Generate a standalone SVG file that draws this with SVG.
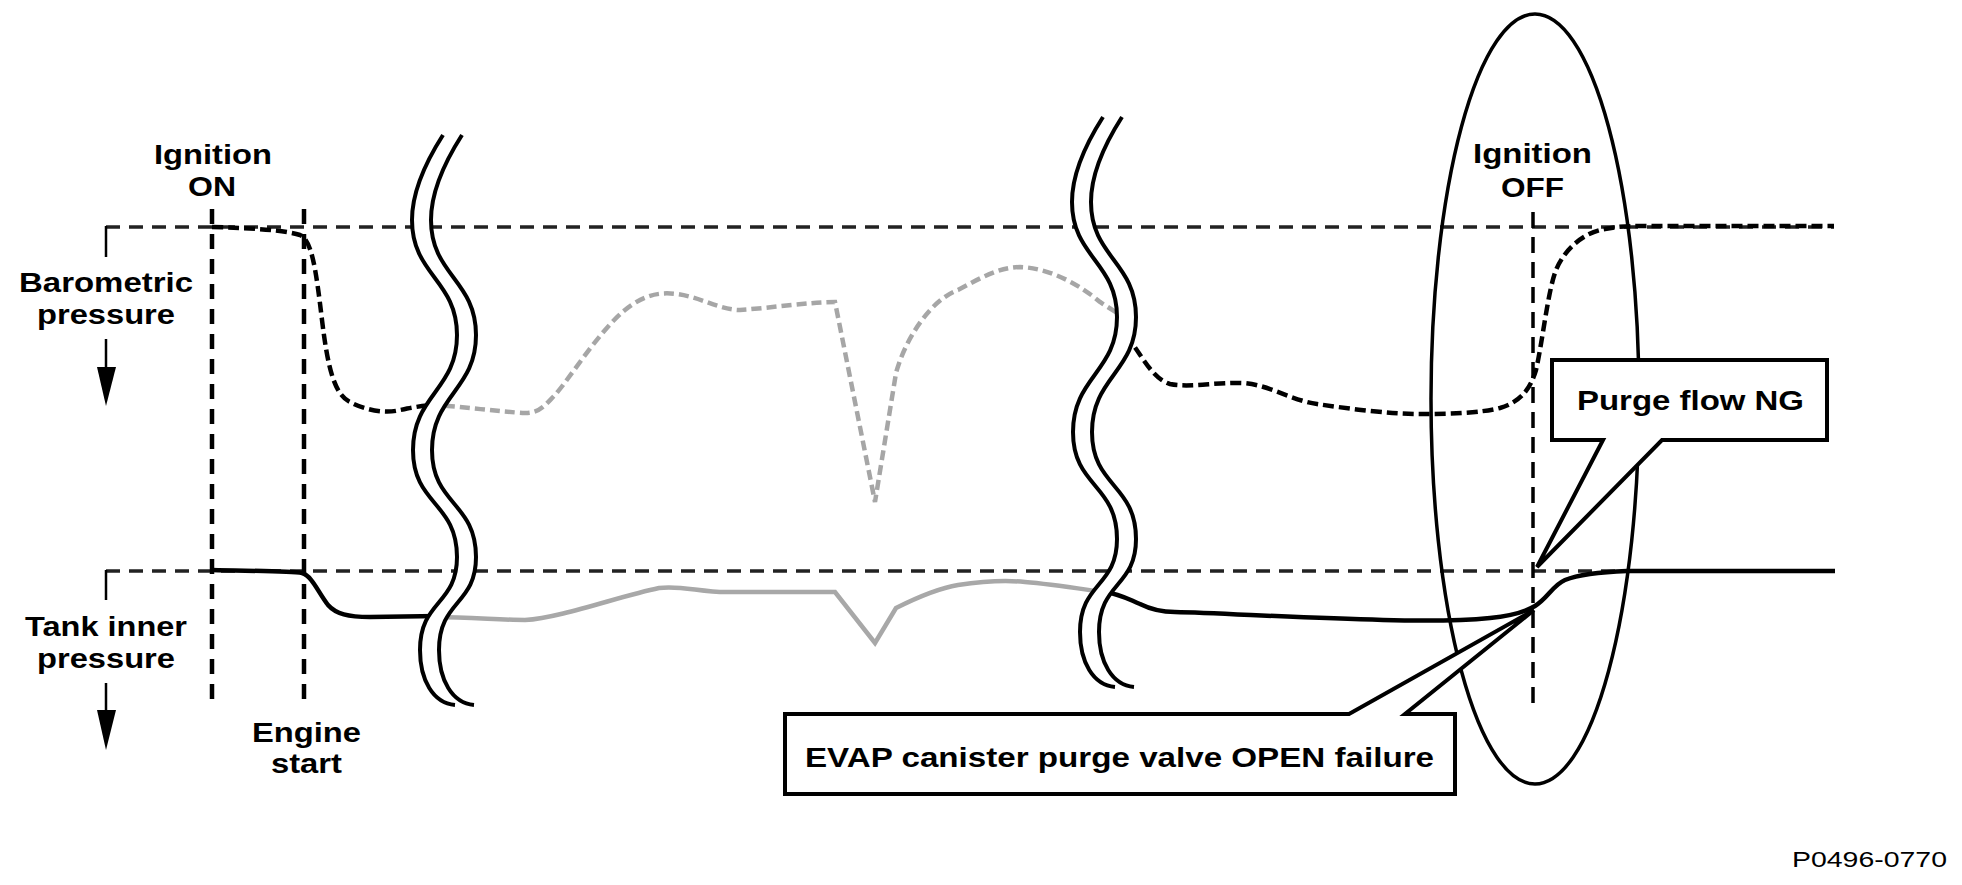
<svg xmlns="http://www.w3.org/2000/svg" xmlns:xlink="http://www.w3.org/1999/xlink" width="1962" height="885" viewBox="0 0 1962 885">
<style>
.lbl{font-family:"Liberation Sans",Arial,sans-serif;font-weight:bold;font-size:28px;fill:#000}
.code{font-family:"Liberation Sans",Arial,sans-serif;font-size:22px;fill:#000}
.base{fill:none;stroke:#222;stroke-width:3.5;stroke-dasharray:14 9}
.vmark{fill:none;stroke:#000;stroke-width:4.5;stroke-dasharray:15 10}
.vmark2{fill:none;stroke:#000;stroke-width:3.5;stroke-dasharray:16 9}
.bdash{fill:none;stroke:#000;stroke-width:4.5;stroke-dasharray:11 5}
.gdash{fill:none;stroke:#a6a6a6;stroke-width:4.5;stroke-dasharray:10 5}
.bsolid{fill:none;stroke:#000;stroke-width:4.5}
.gsolid{fill:none;stroke:#a8a8a8;stroke-width:4.5}
.brkline{fill:none;stroke:#000;stroke-width:4}
.brkfill{fill:#fff;stroke:none}
.callout{fill:#fff;stroke:#000;stroke-width:4}
.tick{fill:none;stroke:#000;stroke-width:2.5}
</style>
<defs>
<path id="brkpath" d="M0,0 C-16,25 -31,55 -31,85 C-31,140 14,145 14,200 C14,255 -30,260 -30,315 C-30,370 14,367 14,422 C14,470 -23,465 -23,515 C-23,545 -10,568 12,570"/>
<g id="brk">
<path class="brkfill" d="M0,0 C-16,25 -31,55 -31,85 C-31,140 14,145 14,200 C14,255 -30,260 -30,315 C-30,370 14,367 14,422 C14,470 -23,465 -23,515 C-23,545 -10,568 12,570 L31,570 C9,568 -4,545 -4,515 C-4,465 33,470 33,422 C33,367 -11,370 -11,315 C-11,260 33,255 33,200 C33,145 -12,140 -12,85 C-12,55 3,25 19,0 Z"/>
<use xlink:href="#brkpath" class="brkline"/>
<use xlink:href="#brkpath" class="brkline" transform="translate(19,0)"/>
</g>
</defs>
<rect width="1962" height="885" fill="#fff"/>

<g id="axes">
<line class="base" x1="106" y1="227" x2="1834" y2="227"/>
<line class="base" x1="106" y1="571" x2="1835" y2="571"/>
<line class="tick" x1="106" y1="226" x2="106" y2="257"/>
<line class="tick" x1="106" y1="570" x2="106" y2="600"/>
<line class="tick" x1="106" y1="339" x2="106" y2="370"/>
<polygon points="97,367 116,367 106,406" fill="#000"/>
<line class="tick" x1="106" y1="683" x2="106" y2="713"/>
<polygon points="97,710 116,710 106,750" fill="#000"/>
</g>

<g id="event-lines">
<line class="vmark" x1="212" y1="209" x2="212" y2="702"/>
<line class="vmark" x1="304" y1="209" x2="304" y2="702"/>
<line class="vmark2" x1="1533" y1="212" x2="1533" y2="703"/>
</g>

<g id="curves">
<path class="bdash" d="M212,227 C250,228 285,230 300,235 C312,240 316,270 322,320 C328,370 335,395 350,402 C365,410 385,414 400,410 C415,407 425,405 440,405"/>
<path class="gdash" d="M430,405 C450,405 500,412 525,413 C540,413 545,405 555,395 C570,378 600,330 625,310 C645,294 660,292 677,294 C700,297 720,310 740,310 C770,308 810,302 835,302 L875,502 L896,373 C905,340 930,300 958,290 C980,278 1000,267 1020,267 C1050,268 1080,285 1100,302 L1125,318"/>
<path class="bdash" d="M1125,335 C1140,350 1150,378 1170,384 C1190,388 1215,382 1243,383 C1270,385 1290,400 1317,404 C1350,409 1390,414 1420,414 C1450,414 1480,413 1500,408 C1520,402 1530,390 1536,370 C1542,345 1548,290 1556,270 C1565,248 1585,232 1605,229 C1615,227 1625,226 1640,226 L1834,226"/>
<path class="bsolid" d="M212,570 C250,571 290,571 302,573 C312,576 318,592 328,605 C336,614 348,617 370,617 L438,616"/>
<path class="gsolid" d="M435,617 C470,617 500,620 525,620 C560,618 620,596 659,588 C680,585 700,592 726,592 L835,592 L875,643 L896,608 C920,596 940,588 958,585 C985,581 1005,580 1025,582 C1050,584 1075,588 1103,592"/>
<path class="bsolid" d="M1105,592 C1120,594 1130,600 1140,604 C1150,609 1160,612 1175,612 C1220,613 1300,618 1383,620 C1420,621 1460,621 1490,618 C1510,616 1525,612 1535,606 C1548,598 1553,585 1565,580 C1580,574 1600,572 1627,571 L1835,571"/>
</g>

<g id="break-1"><use xlink:href="#brk" transform="translate(443,135)"/></g>
<g id="break-2"><use xlink:href="#brk" transform="translate(1103,117)"/></g>

<g id="highlight">
<ellipse cx="1535" cy="399" rx="104" ry="385" fill="none" stroke="#000" stroke-width="3.5"/>
</g>

<g id="callout-purge">
<path class="callout" d="M1552,360 L1827,360 L1827,440 L1662,440 L1537,567 L1603,440 L1552,440 Z"/>
<text class="lbl" x="1577" y="410" font-size="32" textLength="227" lengthAdjust="spacingAndGlyphs">Purge flow NG</text>
</g>

<g id="callout-evap">
<path class="callout" d="M785,714 L1349,714 L1534,610 L1405,714 L1455,714 L1455,794 L785,794 Z"/>
<text class="lbl" x="805" y="767" font-size="31" textLength="629" lengthAdjust="spacingAndGlyphs">EVAP canister purge valve OPEN failure</text>
</g>

<g id="labels">
<text class="lbl" x="154" y="164" textLength="118" lengthAdjust="spacingAndGlyphs">Ignition</text>
<text class="lbl" x="188" y="196" textLength="48" lengthAdjust="spacingAndGlyphs">ON</text>
<text class="lbl" x="19" y="292" textLength="174" lengthAdjust="spacingAndGlyphs">Barometric</text>
<text class="lbl" x="37" y="324" textLength="138" lengthAdjust="spacingAndGlyphs">pressure</text>
<text class="lbl" x="25" y="636" textLength="162" lengthAdjust="spacingAndGlyphs">Tank inner</text>
<text class="lbl" x="37" y="668" textLength="138" lengthAdjust="spacingAndGlyphs">pressure</text>
<text class="lbl" x="252" y="742" textLength="109" lengthAdjust="spacingAndGlyphs">Engine</text>
<text class="lbl" x="271" y="773" textLength="71" lengthAdjust="spacingAndGlyphs">start</text>
<text class="lbl" x="1473" y="163" textLength="119" lengthAdjust="spacingAndGlyphs">Ignition</text>
<text class="lbl" x="1501" y="197" textLength="63" lengthAdjust="spacingAndGlyphs">OFF</text>
<text class="code" x="1792" y="867" textLength="155" lengthAdjust="spacingAndGlyphs">P0496-0770</text>
</g>
</svg>
